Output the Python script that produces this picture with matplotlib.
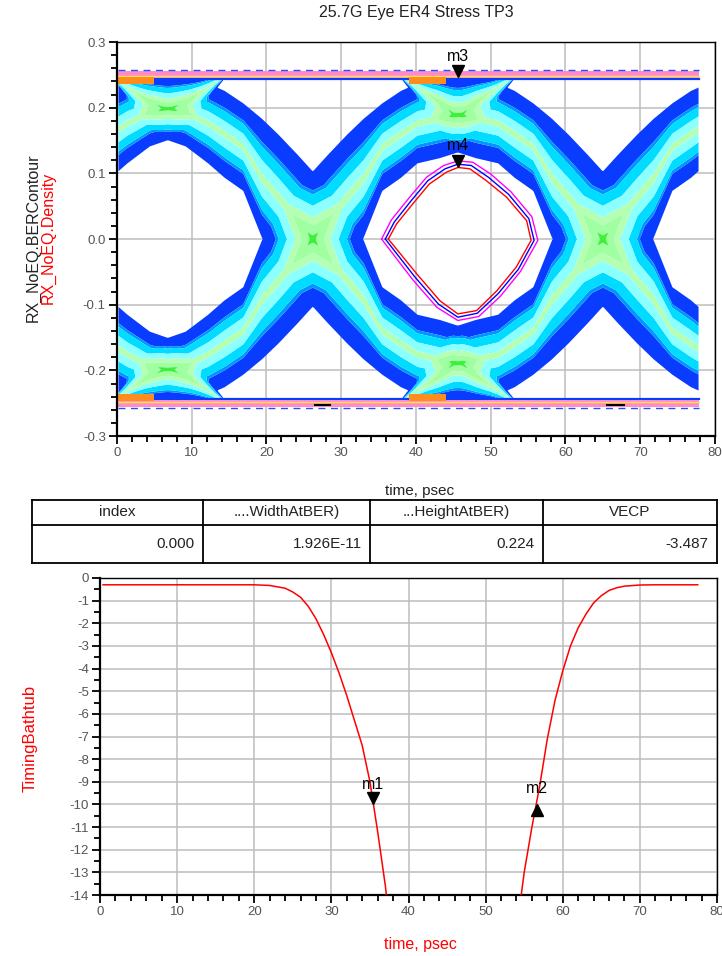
import numpy as np
import matplotlib
matplotlib.use("Agg")
import matplotlib.pyplot as plt
import matplotlib.transforms as mtransforms
from matplotlib.ticker import MultipleLocator, FormatStrFormatter

plt.rcParams['font.family'] = ['Liberation Sans', 'DejaVu Sans']
plt.rcParams['axes.unicode_minus'] = False

# ---------------- eye diagram ----------------
eye_t_span = [0.2, 77.8]          # psec covered by the density data
crossing_t = [-12.6, 26.2, 65.0]  # zero crossings of the eye
# edges of one falling transition band around its crossing (dt = t - crossing)
band_dt = [-27, -24, -22, -20, -17, -14, -11.8, -9.3, -6.8, -4.6, -2, 0,
           2, 4.6, 6.8, 9.3, 11.8, 14, 17, 20, 22, 24, 27]
fall_lower = [0.245, 0.200, 0.172, 0.152, 0.140, 0.114, 0.092, 0.072, 0.0,
              -0.034, -0.074, -0.105, -0.130, -0.161, -0.185, -0.208, -0.227,
              -0.238, -0.245, -0.248, -0.249, -0.250, -0.251]
fall_upper = [0.251, 0.250, 0.249, 0.248, 0.245, 0.238, 0.227, 0.208, 0.185,
              0.161, 0.130, 0.105, 0.074, 0.034, 0.0, -0.072, -0.092, -0.114,
              -0.140, -0.152, -0.172, -0.200, -0.245]
# inner eye top per eye (eyes left of / between / right of the crossings)
eye_top_v = [0.152, 0.152, 0.133, 0.133]
eye_shoulder_v = [0.140, 0.140, 0.122, 0.122]

density_levels = [0.02, 0.40, 0.48, 0.70, 0.92, 1.08, 1.28, 1.55, 3.0]
density_colors = ['#0a3cff', '#0096ff', '#00dcff', '#8cffff', '#b4ffb4',
                  '#a0ffa0', '#3cf03c', '#c8ff64']

rail_v = [0.2505, -0.2505]
rail_orange_t = [(0.2, 5.0), (39.0, 44.0)]
bottom_dark_t = [(26.5, 28.5), (65.5, 67.8)]

# BER contours (outer magenta, blue, inner red)
ber_mag_t = [35.4, 36.7, 39.1, 41.4, 43.7, 45.6, 47.6, 50.0, 52.7, 55.5, 56.3,
             54.0, 51.3, 48.4, 45.6, 42.8, 39.5, 35.4]
ber_mag_v = [0.0, 0.029, 0.063, 0.094, 0.112, 0.119, 0.117, 0.099, 0.072, 0.034,
             -0.002, -0.049, -0.087, -0.118, -0.124, -0.104, -0.061, 0.0]
ber_blue_t = [35.9, 37.1, 39.4, 41.6, 43.9, 45.6, 47.4, 49.7, 52.4, 55.1, 55.8,
              53.7, 51.0, 48.2, 45.6, 43.0, 39.8, 35.9]
ber_blue_v = [0.0, 0.026, 0.059, 0.089, 0.107, 0.114, 0.112, 0.094, 0.068, 0.031,
              -0.002, -0.046, -0.083, -0.113, -0.119, -0.099, -0.057, 0.0]
ber_red_t = [36.3, 37.4, 39.6, 41.8, 44.1, 45.6, 47.2, 49.4, 52.1, 54.8, 55.4,
             53.4, 50.8, 48.1, 45.6, 43.2, 40.1, 36.3]
ber_red_v = [0.0, 0.023, 0.054, 0.084, 0.102, 0.109, 0.107, 0.089, 0.064, 0.028,
             -0.002, -0.043, -0.079, -0.109, -0.114, -0.094, -0.053, 0.0]

eye_markers = [('m3', 45.6, 0.247), ('m4', 45.6, 0.110)]

# ---------------- table ----------------
table_headers = ['index', '....WidthAtBER)', '...HeightAtBER)', 'VECP']
table_values = ['0.000', '1.926E-11', '0.224', '-3.487']

# ---------------- timing bathtub ----------------
bath_left_t = [0.4, 10, 20, 22, 24, 25, 26, 27, 28, 29, 30, 31, 32, 33, 34,
               35, 36, 37, 37.2]
bath_left_v = [-0.3, -0.3, -0.3, -0.33, -0.45, -0.62, -0.85, -1.25, -1.8, -2.5,
               -3.3, -4.2, -5.2, -6.3, -7.4, -9.0, -11.2, -13.6, -14.2]
bath_right_t = [54.5, 55, 56, 57, 58, 59, 60, 61, 62, 63, 64, 65, 66, 67, 68,
                70, 72, 77.5]
bath_right_v = [-14.3, -13.0, -11.0, -9.2, -7.1, -5.4, -4.1, -3.0, -2.2, -1.6,
                -1.1, -0.78, -0.55, -0.43, -0.36, -0.31, -0.3, -0.3]
bath_markers = [('m1', 35.4, -10.0, 'v'), ('m2', 56.6, -9.95, '^')]

tick_grey = '#555555'
grid_grey = '#bdbdbd'


def style_axes(ax):
    ax.set_axisbelow(True)
    ax.grid(True, which='major', color=grid_grey, lw=1.1)
    for side in ['left', 'bottom']:
        ax.spines[side].set_linewidth(1.6)
    for side in ['top', 'right']:
        ax.spines[side].set_linewidth(1.0)
    ax.tick_params(which='both', direction='out', colors='black',
                   labelcolor=tick_grey, labelsize=9.5, width=1.3, pad=2)
    ax.tick_params(which='major', length=6)
    ax.tick_params(which='minor', length=4)


fig = plt.figure(figsize=(7.22, 9.56), dpi=100)
ax1 = fig.add_axes([0.1620, 0.5439, 0.8283, 0.4121])
ax2 = fig.add_axes([0.1385, 0.0638, 0.8546, 0.3316])
axt = fig.add_axes([0.0443, 0.4111, 0.9488, 0.0659])

# ---- eye density ----
tt = np.linspace(eye_t_span[0], eye_t_span[1], 800)
vv = np.linspace(-0.262, 0.262, 600)
T, V = np.meshgrid(tt, vv)
i20, i17 = band_dt.index(-20), band_dt.index(-17)
layers = []
for k, tc in enumerate(crossing_t):
    low_k = list(fall_lower)
    up_k = list(fall_upper)
    # eye left of this crossing sets the inner top, eye right sets the inner bottom
    low_k[i20], low_k[i17] = eye_top_v[k], eye_shoulder_v[k]
    up_k[-1 - i20], up_k[-1 - i17] = -eye_top_v[k + 1], -eye_shoulder_v[k + 1]
    dt = T - tc
    inside = (dt >= band_dt[0]) & (dt <= band_dt[-1])
    lo = np.interp(dt, band_dt, low_k)
    hi = np.interp(dt, band_dt, up_k)
    # falling band and its mirror image, the rising band
    for lower, upper in [(lo, hi), (-hi, -lo)]:
        mid = (lower + upper) / 2
        half = np.maximum((upper - lower) / 2, 1e-6)
        s = np.abs(V - mid) / half
        layers.append(np.where(inside, np.clip(1 - s, 0, None), 0))
layers = np.array(layers)
top = layers.max(axis=0)
dens = top + 0.35 * (layers.sum(axis=0) - top)

ax1.contourf(T, V, dens, levels=density_levels, colors=density_colors,
             zorder=1, antialiased=True)

for rv in rail_v:
    sgn = np.sign(rv)
    ax1.plot(eye_t_span, [rv - sgn * 0.0065] * 2, color='#0a3cff', lw=1.6, zorder=2)
    ax1.fill_between(eye_t_span, rv - 0.0055, rv + 0.0055, color='#ff8cc8',
                     lw=0, zorder=2)
    ax1.plot(eye_t_span, [rv - sgn * 0.002] * 2, color='#ffe14b', lw=1.0, zorder=2)
    ax1.plot(eye_t_span, [rv + sgn * 0.0065] * 2, color='#1e50ff', lw=1.0,
             ls=(0, (5, 4)), zorder=2)
    for t0, t1 in rail_orange_t:
        ax1.fill_between([t0, t1], rv - sgn * 0.014, rv - sgn * 0.004,
                         color='#ff8c1e', lw=0, zorder=2)
for t0, t1 in bottom_dark_t:
    ax1.plot([t0, t1], [rail_v[1] - 0.002] * 2, color='black', lw=1.5, zorder=2)

ax1.plot(ber_mag_t, ber_mag_v, color='#ff00ff', lw=1.0, zorder=3)
ax1.plot(ber_blue_t, ber_blue_v, color='#0000ff', lw=1.0, zorder=3)
ax1.plot(ber_red_t, ber_red_v, color='#ff0000', lw=1.0, zorder=3)

for name, mt, mv in eye_markers:
    tr = mtransforms.offset_copy(ax1.transData, fig=fig, x=0, y=4.5, units='points')
    ax1.plot([mt], [mv], marker='v', ms=9, color='black', transform=tr, zorder=5)
    ax1.annotate(name, (mt, mv), xytext=(0, 15), textcoords='offset points',
                 ha='center', va='center', fontsize=11.5, color='black', zorder=5)

ax1.set_xlim(0, 80)
ax1.set_ylim(-0.3, 0.3)
ax1.xaxis.set_major_locator(MultipleLocator(10))
ax1.xaxis.set_minor_locator(MultipleLocator(2))
ax1.yaxis.set_major_locator(MultipleLocator(0.1))
ax1.yaxis.set_minor_locator(MultipleLocator(0.02))
ax1.yaxis.set_major_formatter(FormatStrFormatter('%.1f'))
style_axes(ax1)

fig.text(416 / 722, 1 - 13 / 956, '25.7G Eye ER4 Stress TP3', ha='center',
         va='center', fontsize=11.5, color='#222222')
fig.text(420 / 722, 1 - 491 / 956, 'time, psec', ha='center', va='center',
         fontsize=11, color='#222222')
fig.text(33 / 722, 1 - 238 / 956, 'RX_NoEQ.BERContour', rotation=90,
         ha='center', va='center', fontsize=11.5, color='#222222')
fig.text(48 / 722, 1 - 238 / 956, 'RX_NoEQ.Density', rotation=90,
         ha='center', va='center', fontsize=11.5, color='#ff0000')

# ---- table ----
axt.set_xlim(0, 1)
axt.set_ylim(0, 1)
axt.axis('off')
col_edges = [0, 171 / 685, 338 / 685, 511 / 685, 1]
row_split = 1 - 25 / 63
for x in col_edges:
    axt.plot([x, x], [0, 1], color='black', lw=1.3, clip_on=False)
for y in [0, row_split, 1]:
    axt.plot([0, 1], [y, y], color='black', lw=1.3, clip_on=False)
for i, (h, val) in enumerate(zip(table_headers, table_values)):
    x0, x1 = col_edges[i], col_edges[i + 1]
    axt.text((x0 + x1) / 2, (1 + row_split) / 2, h, ha='center', va='center',
             fontsize=11, color='#222222')
    axt.text(x1 - 0.012, row_split / 2, val, ha='right', va='center',
             fontsize=11, color='#222222')

# ---- bathtub ----
ax2.plot(bath_left_t, bath_left_v, color='#ff0000', lw=1.1, zorder=3)
ax2.plot(bath_right_t, bath_right_v, color='#ff0000', lw=1.1, zorder=3)
for name, mt, mv, mk in bath_markers:
    dy = 4.5 if mk == 'v' else -4.5
    tr = mtransforms.offset_copy(ax2.transData, fig=fig, x=0, y=dy, units='points')
    ax2.plot([mt], [mv], marker=mk, ms=9, color='black', transform=tr, zorder=5)
    ax2.annotate(name, (mt, mv), xytext=(0, 14 if mk == 'v' else 11),
                 textcoords='offset points', ha='center', va='center',
                 fontsize=11.5, color='black', zorder=5)

ax2.set_xlim(0, 80)
ax2.set_ylim(-14, 0)
ax2.xaxis.set_major_locator(MultipleLocator(10))
ax2.xaxis.set_minor_locator(MultipleLocator(2))
ax2.yaxis.set_major_locator(MultipleLocator(1))
ax2.yaxis.set_minor_locator(MultipleLocator(0.5))
style_axes(ax2)

fig.text(30 / 722, 1 - 738 / 956, 'TimingBathtub', rotation=90, ha='center',
         va='center', fontsize=12, color='#ff0000')
fig.text(420 / 722, 1 - 945 / 956, 'time, psec', ha='center', va='center',
         fontsize=11.5, color='#ff0000')

fig.savefig('out.png', dpi=100)
